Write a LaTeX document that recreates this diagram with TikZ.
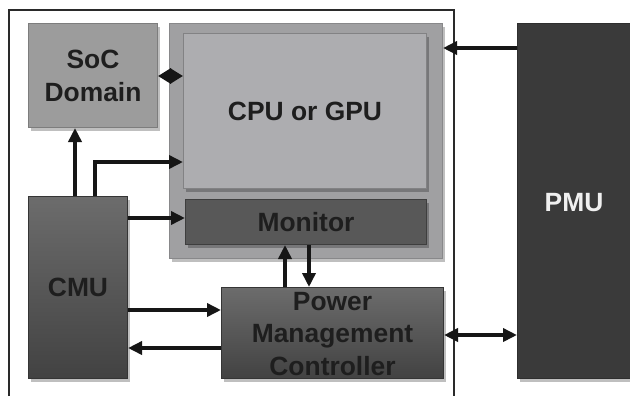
\documentclass[tikz,border=0pt]{standalone}
\usepackage{fontspec}
\setmainfont{Liberation Sans}
\usetikzlibrary{arrows.meta,shadows}
\definecolor{framec}{HTML}{2A2A2A}
\definecolor{socfill}{HTML}{9C9C9C}
\definecolor{grpfill}{HTML}{A0A0A2}
\definecolor{cpufill}{HTML}{ADADB0}
\definecolor{monfill}{HTML}{585858}
\definecolor{ctop}{HTML}{6C6C6C}
\definecolor{cbot}{HTML}{424242}
\definecolor{pmufill}{HTML}{3A3A3A}
\definecolor{txtdark}{HTML}{1E1E1E}
\definecolor{arrc}{HTML}{161616}
\begin{document}
\begin{tikzpicture}[x=1bp,y=-1bp,
  lbl/.style={font=\fontsize{26.5}{33}\selectfont\bfseries, text=txtdark, align=center},
  blk/.style={rectangle, anchor=north west, inner sep=0pt, line width=1bp,
    drop shadow={shadow xshift=2.5bp, shadow yshift=-3bp, opacity=0.25, fill=black}},
  arr/.style={line width=3.5bp, draw=arrc, -{Triangle[length=14bp,width=13bp]}},
  dbl/.style={line width=3.5bp, draw=arrc, {Triangle[length=14bp,width=13bp]}-{Triangle[length=14bp,width=13bp]}},
  frame/.style={line width=2bp, draw=framec}
]
\useasboundingbox[fill=white] (0,0) rectangle (630,396);
% outer frame
\draw[frame] (9,396) -- (9,10) -- (454,10) -- (454,396);

% blocks
\node[blk, fill=socfill, draw=socfill!80!black, minimum width=129bp, minimum height=104bp] (soc) at (28,23) {};
\node[lbl] at (soc.center) {SoC\\Domain};

\node[blk, fill=grpfill, draw=grpfill!85!black, minimum width=273bp, minimum height=235bp] (grp) at (169,23) {};

\node[blk, fill=cpufill, draw=cpufill!75!black, minimum width=243bp, minimum height=155bp] (cpu) at (183,33) {};
\node[lbl] at (cpu.center) {CPU or GPU};

\node[blk, fill=monfill, draw=monfill!70!black, minimum width=241bp, minimum height=45bp] (mon) at (185,199) {};
\node[lbl] at (mon.center) {Monitor};

\node[blk, top color=ctop, bottom color=cbot, draw=cbot!80!black, minimum width=99bp, minimum height=182bp] (cmu) at (28,196) {};
\node[lbl] at (cmu.center) {CMU};

\node[blk, top color=ctop, bottom color=cbot, draw=cbot!80!black, minimum width=222bp, minimum height=91bp] (pmc) at (221,287) {};
\node[lbl] at ([yshift=-1bp]pmc.center) {Power\\Management\\Controller};

\node[blk, fill=pmufill, draw=pmufill!80!black, minimum width=113bp, minimum height=355bp] (pmu) at (517,23) {};
\node[lbl, text=white!94!black] at ([yshift=-2bp]pmu.center) {PMU};

% connectors
\draw[line width=3.5bp, draw=arrc, {Triangle[length=13bp,width=15bp]}-{Triangle[length=13bp,width=15bp]}] (soc.east |- 0,76) -- (cpu.west |- 0,76);
\draw[arr] (cmu.north -| 75,0) -- (soc.south -| 75,0);
\draw[arr] (cmu.north -| 95,0) |- (cpu.west |- 0,162);
\draw[arr] (cmu.east |- 0,218) -- (mon.west |- 0,218);
\draw[arr] (cmu.east |- 0,310) -- (pmc.west |- 0,310);
\draw[arr] (pmc.west |- 0,348) -- (cmu.east |- 0,348);
\draw[arr] (pmc.north -| 285,0) -- (mon.south -| 285,0);
\draw[arr] (mon.south -| 309,0) -- (pmc.north -| 309,0);
\draw[arr] (pmu.west |- 0,48) -- (grp.east |- 0,48);
\draw[dbl] (pmc.east |- 0,335) -- (pmu.west |- 0,335);
\end{tikzpicture}
\end{document}
